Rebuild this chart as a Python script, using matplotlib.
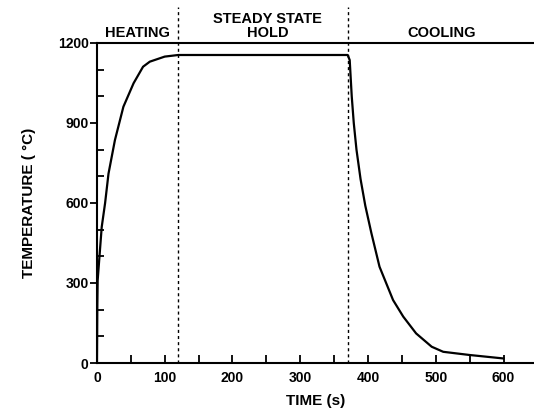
import numpy as np
import matplotlib.pyplot as plt
from matplotlib.ticker import MultipleLocator

plt.rcParams['font.family'] = ['Liberation Sans', 'DejaVu Sans']
plt.rcParams['font.weight'] = 'bold'

# Temperature history (time in s, temperature in C)
heatTime = [0, 0.5, 1, 7, 12, 17, 26.5, 39, 54, 68, 78, 100, 120]
heatTemp = [0, 210, 310, 510, 600, 710, 836, 961, 1049, 1111, 1130, 1149, 1155]
holdTime = [120, 370]
holdTemp = [1155, 1155]
coolTime = [370, 373, 376, 379, 383, 389, 396, 405, 417, 437, 452, 471, 494, 511, 550, 600]
coolTemp = [1155, 1136, 1000, 900, 800, 690, 590, 487, 361, 236, 174, 111, 61, 42, 30, 17]

phaseBounds = [120, 370]
phaseNames = ['HEATING', 'STEADY STATE\nHOLD', 'COOLING']
phaseCenters = [60, 252, 508]

xTicks = [0, 100, 200, 300, 400, 500, 600]
yTicks = [0, 300, 600, 900, 1200]

fig = plt.figure(figsize=(5.34, 4.15), dpi=100)
ax = fig.add_axes([0.1816, 0.1253, 0.8184, 0.7711])

timeAll = np.concatenate([heatTime, holdTime[1:], coolTime[1:]])
tempAll = np.concatenate([heatTemp, holdTemp[1:], coolTemp[1:]])
ax.plot(timeAll, tempAll, color='black', lw=1.6, solid_joinstyle='round')

# Phase boundaries, running above the frame
for b in phaseBounds:
    ax.plot([b, b], [0, 1335], color='black', lw=1.0, ls=(0, (2.2, 2.2)), clip_on=False)

for name, c in zip(phaseNames, phaseCenters):
    ax.text(c, 1210, name, ha='center', va='bottom', fontsize=10.5,
            fontweight='bold', linespacing=1.05)

ax.set_xlim(0, 645)
ax.set_ylim(0, 1200)

ax.spines['right'].set_visible(False)
for s in ['left', 'bottom', 'top']:
    ax.spines[s].set_linewidth(1.5)

ax.set_xticks(xTicks)
ax.xaxis.set_minor_locator(MultipleLocator(50))
ax.tick_params(axis='x', which='both', direction='in', length=6, width=1.3,
               labelsize=10, pad=6)
ax.set_yticks(yTicks)
ax.yaxis.set_minor_locator(MultipleLocator(100))
ax.tick_params(axis='y', which='major', direction='out', length=5, width=1.3,
               labelsize=10, pad=1)
ax.tick_params(axis='y', which='minor', direction='in', length=5, width=1.3)
ax.tick_params(top=False, right=False, which='both')

ax.set_xlabel('TIME (s)', fontsize=11, fontweight='bold', labelpad=6)
ax.set_ylabel('TEMPERATURE ( \u00b0C)', fontsize=11, fontweight='bold', labelpad=16)

fig.savefig('out.png', dpi=100)
